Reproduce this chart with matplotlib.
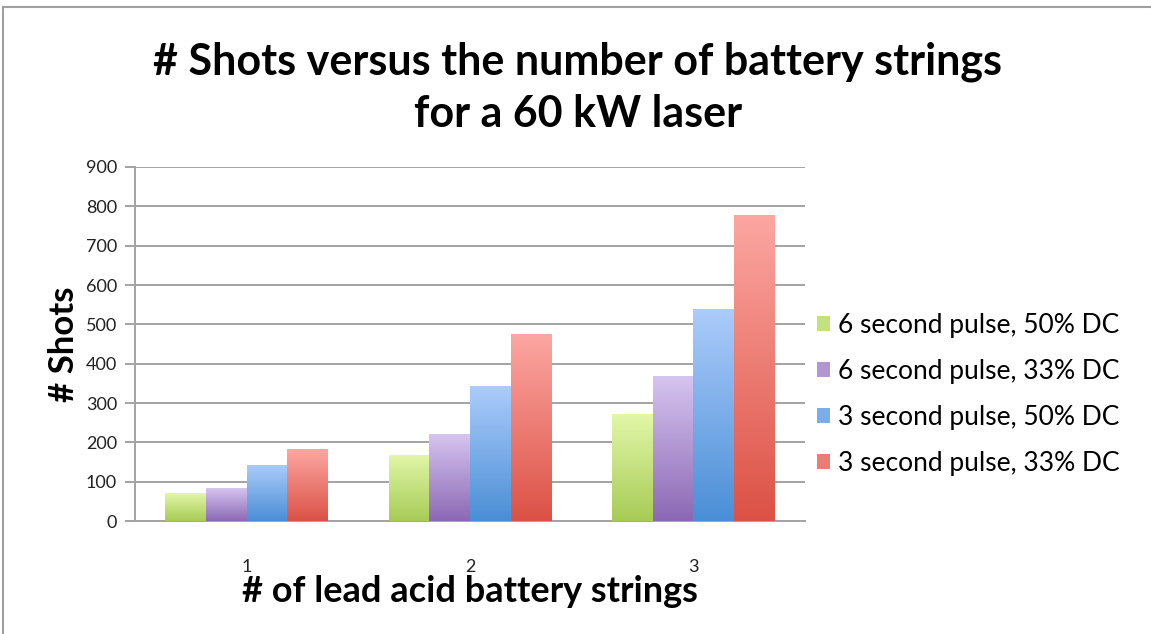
import numpy as np
import matplotlib
matplotlib.use("Agg")
import matplotlib.pyplot as plt
from matplotlib.colors import LinearSegmentedColormap
from matplotlib.patches import Patch
from matplotlib.lines import Line2D

plt.rcParams['font.family'] = ['Lato', 'DejaVu Sans']

categories = ['1', '2', '3']
series_names = ['6 second pulse, 50% DC', '6 second pulse, 33% DC',
                '3 second pulse, 50% DC', '3 second pulse, 33% DC']
green_vals = [71, 169, 271]
purple_vals = [83, 220, 368]
blue_vals = [143, 342, 540]
red_vals = [183, 476, 778]
y_ticks = [0, 100, 200, 300, 400, 500, 600, 700, 800, 900]

# (top colour, bottom colour) for each bar gradient
gradients = [('#e2f7a8', '#a7cb56'),
             ('#d6c4f0', '#8c68b4'),
             ('#acccfb', '#4a8ed6'),
             ('#fca7a2', '#dc5145')]


def gradient_bar(ax, bar, top, bottom):
    cmap = LinearSegmentedColormap.from_list('g', [bottom, top])
    x0, y0 = bar.get_x(), bar.get_y()
    w, h = bar.get_width(), bar.get_height()
    img = ax.imshow(np.linspace(0, 1, 256).reshape(-1, 1), cmap=cmap,
                    origin='lower', aspect='auto',
                    extent=[x0, x0 + w, y0, y0 + h], zorder=3)
    img.set_clip_path(bar)


def main():
    fig = plt.figure(figsize=(11.51, 6.34), dpi=100)
    ax = fig.add_axes([0.1173, 0.1782, 0.5821, 0.5584])

    values = [green_vals, purple_vals, blue_vals, red_vals]
    x = np.arange(len(categories))
    width = 0.182
    offsets = (np.arange(4) - 1.5) * width
    for vals, off, (top, bottom) in zip(values, offsets, gradients):
        bars = ax.bar(x + off, vals, width, color='none', edgecolor='none',
                      zorder=3)
        for b in bars:
            gradient_bar(ax, b, top, bottom)

    ax.set_xlim(-0.5, 2.5)
    ax.set_ylim(0, 900)
    ax.set_yticks(y_ticks)
    ax.set_xticks(x)
    ax.set_xticklabels(categories)
    ax.yaxis.grid(True, color='#a3a3a3', lw=1.4, zorder=0)
    ax.set_axisbelow(True)
    for s in ['top', 'right']:
        ax.spines[s].set_visible(False)
    for s in ['left', 'bottom']:
        ax.spines[s].set_color('#a3a3a3')
        ax.spines[s].set_linewidth(1.4)
    ax.tick_params(axis='y', length=7, width=1.4, color='#a3a3a3',
                   labelsize=13, pad=6, labelcolor='#222222')
    ax.tick_params(axis='x', length=0, labelsize=13, pad=27,
                   labelcolor='#222222')

    ax.set_ylabel('# Shots', fontsize=25, fontweight='bold', labelpad=4)
    ax.set_xlabel('# of lead acid battery strings', fontsize=26,
                  fontweight='bold', va='top')
    ax.xaxis.set_label_coords(0.5, -0.152)

    fig.text(0.502, 0.861, '# Shots versus the number of battery strings\nfor a 60 kW laser',
             ha='center', va='center', fontsize=31, fontweight='bold',
             linespacing=1.36)

    handles = [Patch(facecolor=np.mean([matplotlib.colors.to_rgb(t), matplotlib.colors.to_rgb(b)], axis=0))
               for t, b in gradients]
    fig.legend(handles, series_names, loc='center left',
               bbox_to_anchor=(0.689, 0.378), frameon=False, fontsize=19,
               handlelength=0.5, handleheight=0.5, handletextpad=0.3,
               labelspacing=0.8)

    # outer frame (top and left edges visible)
    fig.add_artist(Line2D([0.003, 1.0], [0.989, 0.989], color='#a0a0a0', lw=1.5))
    fig.add_artist(Line2D([0.003, 0.003], [0.0, 0.989], color='#a0a0a0', lw=1.5))

    fig.savefig('out.png', dpi=100)


if __name__ == '__main__':
    main()
